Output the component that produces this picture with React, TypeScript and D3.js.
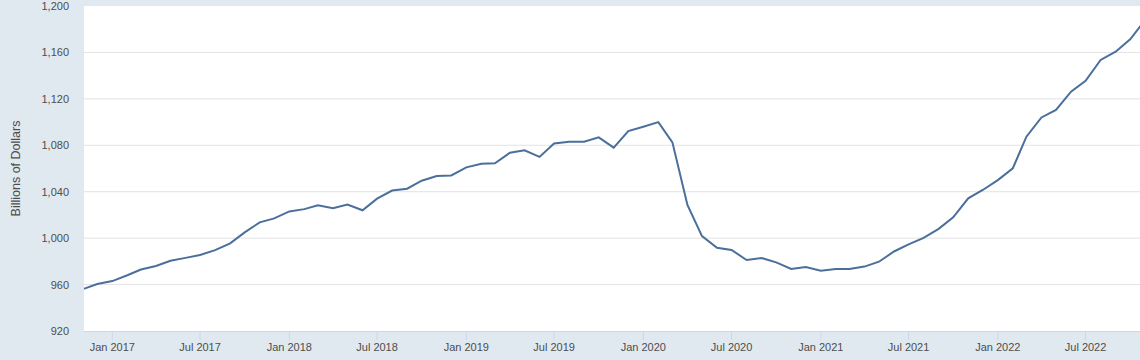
import React from 'react';
import * as d3 from 'd3';

// monthly values, Nov 2016 .. Nov 2022 (billions of dollars)
const startMonth = '2016-11';
const values = [
  956, 960.5,
  963, 968, 973, 976, 980.5, 983, 985.5, 989.7, 995.5, 1005, 1013.6, 1017,
  1023, 1025, 1028.3, 1025.7, 1029, 1024, 1034, 1041, 1042.6, 1049.5, 1053.5, 1054,
  1061, 1064, 1064.5, 1073.6, 1075.7, 1070, 1081.5, 1083, 1083, 1086.8, 1078, 1092.3,
  1096, 1100, 1082.5, 1028.6, 1001.8, 991.7, 989.8, 981.2, 982.9, 979.1, 973.4, 975.1,
  972, 973.4, 973.4, 975.5, 979.7, 988.5, 994.6, 1000.3, 1008, 1018, 1034.3, 1041.5,
  1050, 1060.2, 1087.4, 1104, 1110.4, 1126.2, 1135.6, 1153.5, 1160.6, 1171.3, 1188,
];
const yTicks = [920, 960, 1000, 1040, 1080, 1120, 1160, 1200];
const yTitle = 'Billions of Dollars';

const W = 1140;
const H = 360;
const plot = { left: 84, top: 6, bottom: 331 };

const parse = d3.utcParse('%Y-%m');
const t0 = parse(startMonth) as Date;
const data = values.map((v, i) => ({ date: d3.utcMonth.offset(t0, i), value: v }));

const App = () => {
  // Jan 2017 sits at x≈112.3, Jan 2022 at x≈997.8
  const jan17 = Date.UTC(2017, 0, 1);
  const jan22 = Date.UTC(2022, 0, 1);
  const pxPerMs = (997.8 - 112.3) / (jan22 - jan17);
  const d0 = data[0].date;
  const d1 = data[data.length - 1].date;
  const x = d3
    .scaleUtc()
    .domain([d0, d1])
    .range([112.3 + (+d0 - jan17) * pxPerMs, 112.3 + (+d1 - jan17) * pxPerMs]);
  const y = d3.scaleLinear().domain([920, 1200]).range([plot.bottom, plot.top]);

  const line = d3
    .line<{ date: Date; value: number }>()
    .x((d) => x(d.date))
    .y((d) => y(d.value));

  const xTicks = d3.utcMonth.every(6)!.range(d3.utcMonth.offset(d0, 1), d1);
  const fmt = d3.utcFormat('%b %Y');

  return (
    <svg
      width={W}
      height={H}
      style={{ position: 'absolute', left: 0, top: 0, fontFamily: '"Liberation Sans", Arial, sans-serif' }}
    >
      <defs>
        <clipPath id="plotclip">
          <rect x={plot.left} y={0} width={W - plot.left} height={plot.bottom + 1} />
        </clipPath>
      </defs>
      <rect x={0} y={0} width={W} height={H} fill="#e1e9f0" />
      <rect x={plot.left} y={plot.top} width={W - plot.left} height={plot.bottom - plot.top} fill="#ffffff" />

      {yTicks.map((t) => (
        <g key={t}>
          {t > 920 && t < 1200 && (
            <line x1={plot.left} x2={W} y1={y(t)} y2={y(t)} stroke="#e3e3e3" strokeWidth={1} />
          )}
          <text x={69} y={y(t) + 4} textAnchor="end" fontSize={11} fill="#4d4d4d">
            {d3.format(',')(t)}
          </text>
        </g>
      ))}

      <line x1={plot.left} x2={W} y1={plot.bottom + 0.5} y2={plot.bottom + 0.5} stroke="#ccd6eb" />
      {xTicks.map((t) => (
        <g key={+t}>
          <line x1={x(t)} x2={x(t)} y1={plot.bottom} y2={plot.bottom + 9} stroke="#ccd6eb" />
          <text x={x(t)} y={351} textAnchor="middle" fontSize={11} fill="#4d4d4d">
            {fmt(t)}
          </text>
        </g>
      ))}

      <text
        transform={`translate(20,${(plot.top + plot.bottom) / 2}) rotate(-90)`}
        textAnchor="middle"
        fontSize={12.5}
        fill="#4d4d4d"
      >
        {yTitle}
      </text>

      <path d={line(data) || ''} fill="none" stroke="#4a6f9c" strokeWidth={2} clipPath="url(#plotclip)" />
    </svg>
  );
};

export default App;
